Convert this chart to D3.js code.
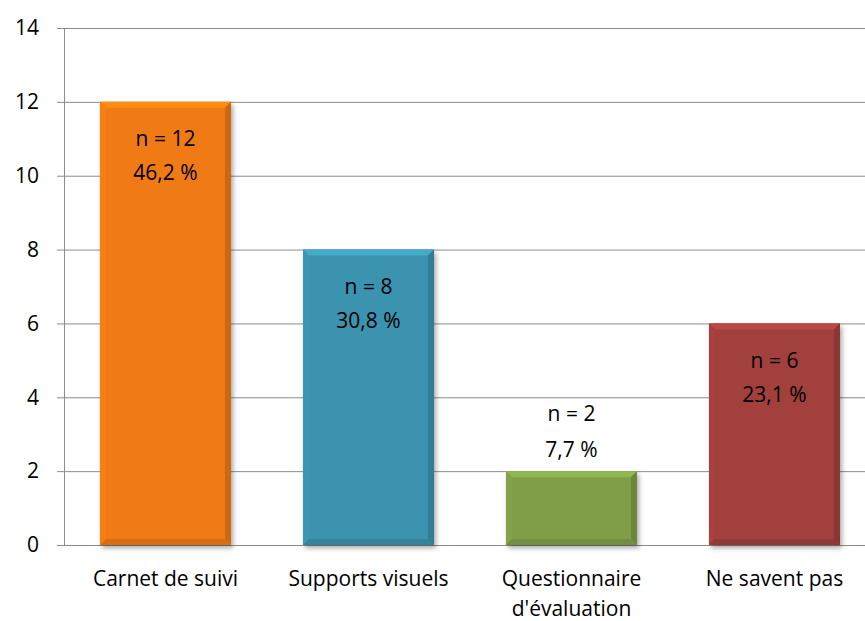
<!DOCTYPE html>
<html lang="fr">
<head>
<meta charset="utf-8">
<style>
  body { margin: 0; background: #fff; }
  text { font-family: "Open Sans", "Liberation Sans", sans-serif; fill: #000; }
</style>
</head>
<body>
<svg width="865" height="621"></svg>
<script src="https://d3js.org/d3.v7.min.js"></script>
<script>
var categories = ["Carnet de suivi", "Supports visuels", "Questionnaire\nd'évaluation", "Ne savent pas"];
var counts = [12, 8, 2, 6];
var percents = ["46,2 %", "30,8 %", "7,7 %", "23,1 %"];
var colors = ["#F07A12", "#3B93AF", "#7F9E47", "#A13F3D"];
var yTicks = [0, 2, 4, 6, 8, 10, 12, 14];

var svg = d3.select("svg");
var plotLeft = 64, plotRight = 876, plotTop = 28, plotBottom = 545;
var fs = 21;

var x = d3.scaleBand().domain(categories).range([plotLeft, plotRight]).paddingInner(0.355).paddingOuter(0.1775);
var y = d3.scaleLinear().domain([0, 14]).range([plotBottom, plotTop]);

var defs = svg.append("defs");
defs.append("filter").attr("id", "shadow").attr("x", "-10%").attr("y", "-10%").attr("width", "125%").attr("height", "125%")
  .append("feDropShadow").attr("dx", 2).attr("dy", 3).attr("stdDeviation", 2.5).attr("flood-color", "#000").attr("flood-opacity", 0.35);

// gridlines
svg.append("g").selectAll("line").data(yTicks).join("line")
  .attr("x1", plotLeft - 7).attr("x2", 865)
  .attr("y1", d => y(d) + 0.5).attr("y2", d => y(d) + 0.5)
  .attr("stroke", "#8c8c8c").attr("stroke-width", 1);

svg.append("line").attr("x1", plotLeft + 0.5).attr("x2", plotLeft + 0.5)
  .attr("y1", plotTop).attr("y2", plotBottom).attr("stroke", "#8c8c8c");

svg.append("g").selectAll("text").data(yTicks).join("text")
  .attr("x", 39).attr("y", d => y(d)).attr("dy", "0.35em")
  .attr("text-anchor", "end").attr("font-size", fs).text(d => d);

// bars
var bars = svg.append("g").selectAll("g").data(categories).join("g");
bars.each(function(c, i) {
  var g = d3.select(this);
  var bx = x(c), bw = x.bandwidth(), by = y(counts[i]), bh = y(0) - y(counts[i]);
  var base = d3.color(colors[i]);
  var b = 6;
  g.append("rect").attr("x", bx).attr("y", by).attr("width", bw).attr("height", bh)
    .attr("fill", colors[i]).attr("filter", "url(#shadow)");
  // bevel: top light, bottom/right dark
  g.append("path").attr("d", `M${bx},${by}L${bx + bw},${by}L${bx + bw - b},${by + b}L${bx + b},${by + b}Z`)
    .attr("fill", base.brighter(0.4));
  g.append("path").attr("d", `M${bx},${by}L${bx + b},${by + b}L${bx + b},${by + bh - b}L${bx},${by + bh}Z`)
    .attr("fill", base.brighter(0.08));
  g.append("path").attr("d", `M${bx + bw},${by}L${bx + bw},${by + bh}L${bx + bw - b},${by + bh - b}L${bx + bw - b},${by + b}Z`)
    .attr("fill", base.darker(0.45));
  g.append("path").attr("d", `M${bx},${by + bh}L${bx + bw},${by + bh}L${bx + bw - b},${by + bh - b}L${bx + b},${by + bh - b}Z`)
    .attr("fill", base.darker(0.3));

  var inside = bh > 120;
  var y1 = inside ? by + 37 : by - 57;
  var y2 = inside ? by + 71 : by - 21;
  g.append("text").attr("x", bx + bw / 2).attr("y", y1).attr("dy", "0.35em")
    .attr("text-anchor", "middle").attr("font-size", fs).text("n = " + counts[i]);
  g.append("text").attr("x", bx + bw / 2).attr("y", y2).attr("dy", "0.35em")
    .attr("text-anchor", "middle").attr("font-size", fs).text(percents[i]);
});

// x labels
svg.append("g").selectAll("text").data(categories).join("text")
  .attr("x", d => x(d) + x.bandwidth() / 2).attr("y", 579)
  .attr("text-anchor", "middle").attr("font-size", fs)
  .each(function(d) {
    var t = d3.select(this);
    d.split("\n").forEach(function(line, k) {
      t.append("tspan").attr("x", t.attr("x")).attr("dy", k === 0 ? "0.35em" : 30).text(line);
    });
  });
</script>
</body>
</html>
